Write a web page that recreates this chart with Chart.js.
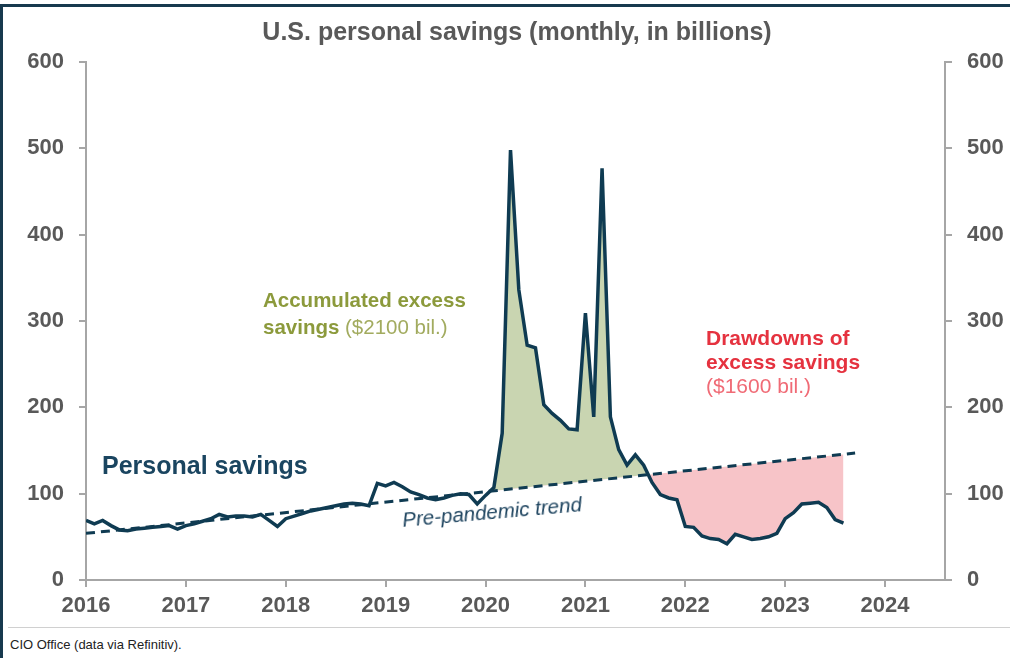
<!DOCTYPE html>
<html>
<head>
<meta charset="utf-8">
<title>U.S. personal savings</title>
<script src="https://cdn.jsdelivr.net/npm/chart.js@4"></script>
<style>
  body { margin: 0; background: #fff; }
  #wrap { position: relative; width: 1010px; height: 658px; overflow: hidden; font-family: "Liberation Sans", Arial, sans-serif; }
  #frame { position: absolute; left: 0; top: 4px; width: 1010px; height: 660px; border-top: 3px solid #17394e; border-left: 3px solid #17394e; box-sizing: border-box; }
  #chart { position: absolute; left: 0; top: 0; }
  .txt { position: absolute; white-space: nowrap; }
  #title { left: 0; width: 1034px; top: 17px; text-align: center; font-size: 25px; font-weight: bold; color: #595959; }
  #lblSavings { left: 102px; top: 451px; font-size: 25px; font-weight: bold; color: #1a4560; }
  #lblExcess { left: 263px; top: 286px; font-size: 20.5px; font-weight: bold; color: #8c9a3c; line-height: 27px; }
  #lblExcess span { font-weight: normal; color: #a2ab5f; }
  #lblDraw { left: 706px; top: 326px; font-size: 21px; font-weight: bold; color: #e5323f; line-height: 24px; }
  #lblDraw span { font-weight: normal; color: #f06b76; }
  #lblTrend { left: 402px; top: 500px; font-size: 20.5px; font-style: italic; color: #1f4560; transform: rotate(-5deg); transform-origin: center; }
  #rule { position: absolute; left: 8px; right: 0; top: 627px; border-top: 1px solid #d0d0d0; }
  #source { left: 10px; top: 637px; font-size: 13px; color: #222; }
</style>
</head>
<body>
<div id="wrap">
  <div id="frame"></div>
  <canvas id="chart" width="1010" height="625"></canvas>
  <div class="txt" id="title">U.S. personal savings (monthly, in billions)</div>
  <div class="txt" id="lblSavings">Personal savings</div>
  <div class="txt" id="lblExcess">Accumulated excess<br>savings <span>($2100 bil.)</span></div>
  <div class="txt" id="lblDraw">Drawdowns of<br>excess savings<br><span>($1600 bil.)</span></div>
  <div class="txt" id="lblTrend">Pre-pandemic trend</div>
  <div id="rule"></div>
  <div class="txt" id="source">CIO Office (data via Refinitiv).</div>
</div>
<script>
// Monatswerte ab Januar 2016 (Mrd. USD)
const startJahr = 2016;
const sparen = [
  69, 65, 69, 63, 58, 57, 59, 60, 61, 62, 63, 59,        // 2016
  63, 65, 68, 71, 76, 73, 74, 74, 73, 76, 69, 62,        // 2017
  71, 74, 77, 80, 82, 84, 86, 88, 89, 88, 86, 112,       // 2018
  109, 113, 108, 102, 99, 95, 93, 95, 98, 100, 99, 88,   // 2019
  98, 107, 170, 498, 336, 272, 269, 203, 193, 185, 175, 174, // 2020
  309, 189, 477, 189, 151, 133, 145, 133, 113, 99, 95, 93,   // 2021
  62, 61, 51, 48, 47, 42, 53, 50, 47, 48, 50, 54,        // 2022
  71, 78, 88, 89, 90, 84, 70, 66                          // 2023
];
// Trend vor der Pandemie (Endpunkte)
const trendJahre = [2016, 2023.7];
const trendWerte = [54, 147];
// Ab Februar 2020 wird die Differenz zum Trend eingefärbt
const ueberschussStart = 49;

const yTicks = [0, 100, 200, 300, 400, 500, 600];
const jahrTicks = [2016, 2017, 2018, 2019, 2020, 2021, 2022, 2023, 2024];

const linie = '#0f3b52';
const achse = '#a6a6a6';
const schrift = { family: '"Liberation Sans", Arial, sans-serif', size: 22, weight: 'bold' };

const punkte = sparen.map((v, i) => ({ x: startJahr + i / 12, y: v }));
const trendPunkte = trendJahre.map((j, i) => ({ x: j, y: trendWerte[i] }));
const fuellPunkte = punkte.slice(ueberschussStart);

const achsenGrid = { drawOnChartArea: false, drawTicks: true, tickLength: 7, color: achse, lineWidth: 2 };

new Chart(document.getElementById('chart'), {
  type: 'line',
  data: {
    datasets: [
      { label: 'Personal savings', data: punkte, borderColor: linie, borderWidth: 3.5, pointRadius: 0, tension: 0, fill: false, order: 0 },
      { label: 'Pre-pandemic trend', data: trendPunkte, borderColor: linie, borderWidth: 3, borderDash: [9, 6], pointRadius: 0, fill: false, order: 1 },
      { label: 'excess', data: fuellPunkte, borderWidth: 0, borderColor: 'rgba(0,0,0,0)', pointRadius: 0,
        fill: { target: 1, above: '#c9d5b1', below: '#f7c4c8' }, order: 2 }
    ]
  },
  options: {
    responsive: false,
    animation: false,
    layout: { padding: { top: 62, left: 0, right: 0, bottom: 0 } },
    plugins: { legend: { display: false }, tooltip: { enabled: false } },
    scales: {
      x: {
        type: 'linear', min: 2016, max: 2024.6,
        afterBuildTicks: s => { s.ticks = jahrTicks.map(v => ({ value: v })); },
        afterFit: s => { s.height = 45; },
        ticks: { color: '#595959', font: schrift, padding: 6, callback: v => String(v), maxRotation: 0, autoSkip: false },
        grid: achsenGrid,
        border: { color: achse, width: 2 }
      },
      y: {
        position: 'left', min: 0, max: 600,
        afterBuildTicks: s => { s.ticks = yTicks.map(v => ({ value: v })); },
        afterFit: s => { s.width = 86; },
        ticks: { color: '#595959', font: schrift, padding: 15 },
        grid: achsenGrid,
        border: { color: achse, width: 2 }
      },
      y2: {
        position: 'right', min: 0, max: 600,
        afterBuildTicks: s => { s.ticks = yTicks.map(v => ({ value: v })); },
        afterFit: s => { s.width = 65; },
        ticks: { color: '#595959', font: schrift, padding: 15 },
        grid: achsenGrid,
        border: { color: achse, width: 2 }
      }
    }
  }
});
</script>
</body>
</html>
